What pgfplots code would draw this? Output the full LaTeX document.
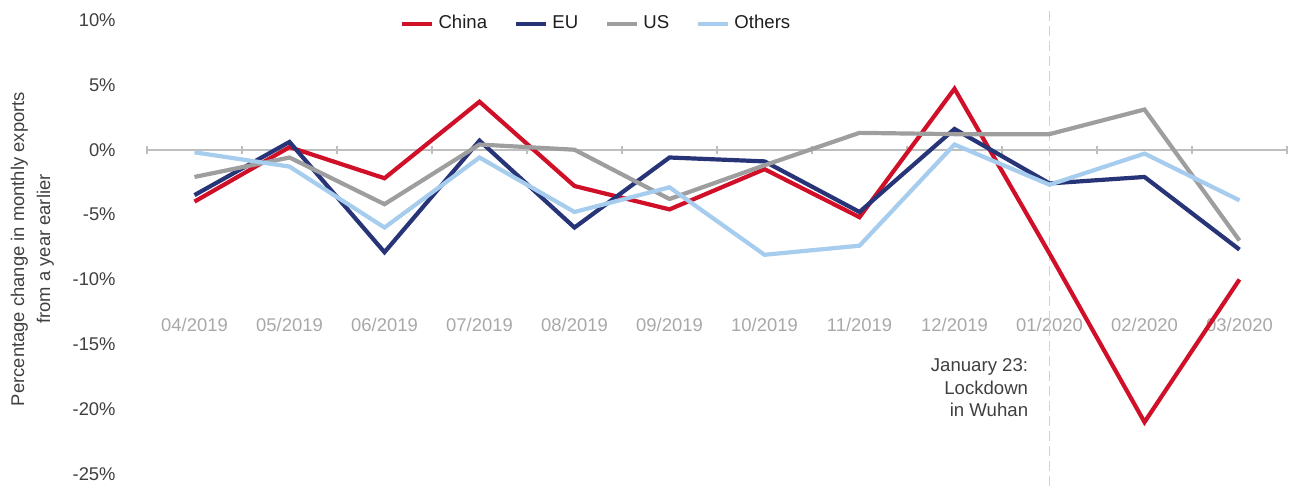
\documentclass[border=0pt]{standalone}
\usepackage{fontspec}
\setmainfont{Liberation Sans}
\usepackage{pgfplots}
\pgfplotsset{compat=1.18}
\definecolor{cChina}{RGB}{208,16,40}
\definecolor{cEU}{RGB}{39,52,120}
\definecolor{cUS}{RGB}{158,158,158}
\definecolor{cOthers}{RGB}{166,204,238}
\definecolor{axgray}{RGB}{190,190,190}
\definecolor{dashgray}{RGB}{210,210,210}
\definecolor{xgray}{RGB}{168,168,168}
\definecolor{txtdark}{RGB}{64,64,64}
\definecolor{txtblack}{RGB}{30,30,30}
\begin{document}
\begin{tikzpicture}
\begin{axis}[name=ax, scale only axis, width=570pt, height=227pt,
  xmin=-0.5, xmax=11.5, ymin=-25, ymax=10,
  clip=false,
  axis x line*=middle, axis y line*=left,
  y axis line style={draw=none},
  x axis line style={draw=axgray, line width=0.8pt},
  ytick={-25,-20,-15,-10,-5,0,5,10},
  yticklabels={-25\%,-20\%,-15\%,-10\%,-5\%,0\%,5\%,10\%},
  ytick style={draw=none},
  yticklabel style={anchor=east, xshift=-15.5pt, inner sep=0pt, text=txtdark, font=\fontsize{9.2}{11}\selectfont},
  xtick={0,...,11},
  xticklabels={04/2019,05/2019,06/2019,07/2019,08/2019,09/2019,10/2019,11/2019,12/2019,01/2020,02/2020,03/2020},
  minor xtick={-0.5,0.5,...,11.5},
  major tick length=0pt,
  minor tick length=4pt,
  xtick align=center,
  minor x tick style={draw=axgray, line width=0.8pt},
  xticklabel style={anchor=center, yshift=-87.7pt, inner sep=0pt, text=xgray, font=\fontsize{9.2}{11}\selectfont},
  ylabel={Percentage change in monthly exports\\from a year earlier},
  ylabel style={at={(axis description cs:-0.1005,0.4956)}, anchor=center, align=center, text=txtdark, font=\fontsize{9.2}{13}\selectfont},
  legend columns=4,
  legend style={at={(0.395,0.992)}, anchor=center, draw=none, fill=none, text=txtblack, font=\fontsize{9.3}{11}\selectfont,
    /tikz/every even column/.append style={column sep=11.5pt}},
  legend image code/.code={\draw[#1] (0pt,0pt) -- (15pt,0pt);},
  every axis plot/.append style={line width=2.1pt, line join=miter, mark=none},
]
\draw[dashgray, line width=0.8pt, dash pattern=on 5pt off 2.5pt] (axis cs:9,10.7) -- (axis cs:9,-25.9);
\addplot[cChina] coordinates {(0,-4.0) (1,0.2) (2,-2.2) (3,3.7) (4,-2.8) (5,-4.6) (6,-1.5) (7,-5.2) (8,4.7) (9,-8.0) (10,-21.0) (11,-10.0)};
\addlegendentry{China}
\addplot[cEU] coordinates {(0,-3.5) (1,0.6) (2,-7.9) (3,0.7) (4,-6.0) (5,-0.6) (6,-0.9) (7,-4.8) (8,1.6) (9,-2.6) (10,-2.1) (11,-7.7)};
\addlegendentry{EU}
\addplot[cUS] coordinates {(0,-2.1) (1,-0.6) (2,-4.2) (3,0.4) (4,0.0) (5,-3.8) (6,-1.2) (7,1.3) (8,1.2) (9,1.2) (10,3.1) (11,-7.0)};
\addlegendentry{US}
\addplot[cOthers] coordinates {(0,-0.2) (1,-1.3) (2,-6.0) (3,-0.6) (4,-4.8) (5,-2.9) (6,-8.1) (7,-7.4) (8,0.4) (9,-2.7) (10,-0.3) (11,-3.9)};
\addlegendentry{Others}
\node[anchor=east, align=right, inner sep=0pt, text=txtdark, font=\fontsize{9.3}{11.25}\selectfont, xshift=-10.5pt] at (axis cs:9,-18.37) {January 23:\\Lockdown\\in Wuhan};
\end{axis}
\pgfresetboundingbox
\path[use as bounding box] ([shift={(-73.5pt,-6.5pt)}]ax.south west) rectangle ([shift={(2.5pt,10pt)}]ax.north east);
\end{tikzpicture}
\end{document}
